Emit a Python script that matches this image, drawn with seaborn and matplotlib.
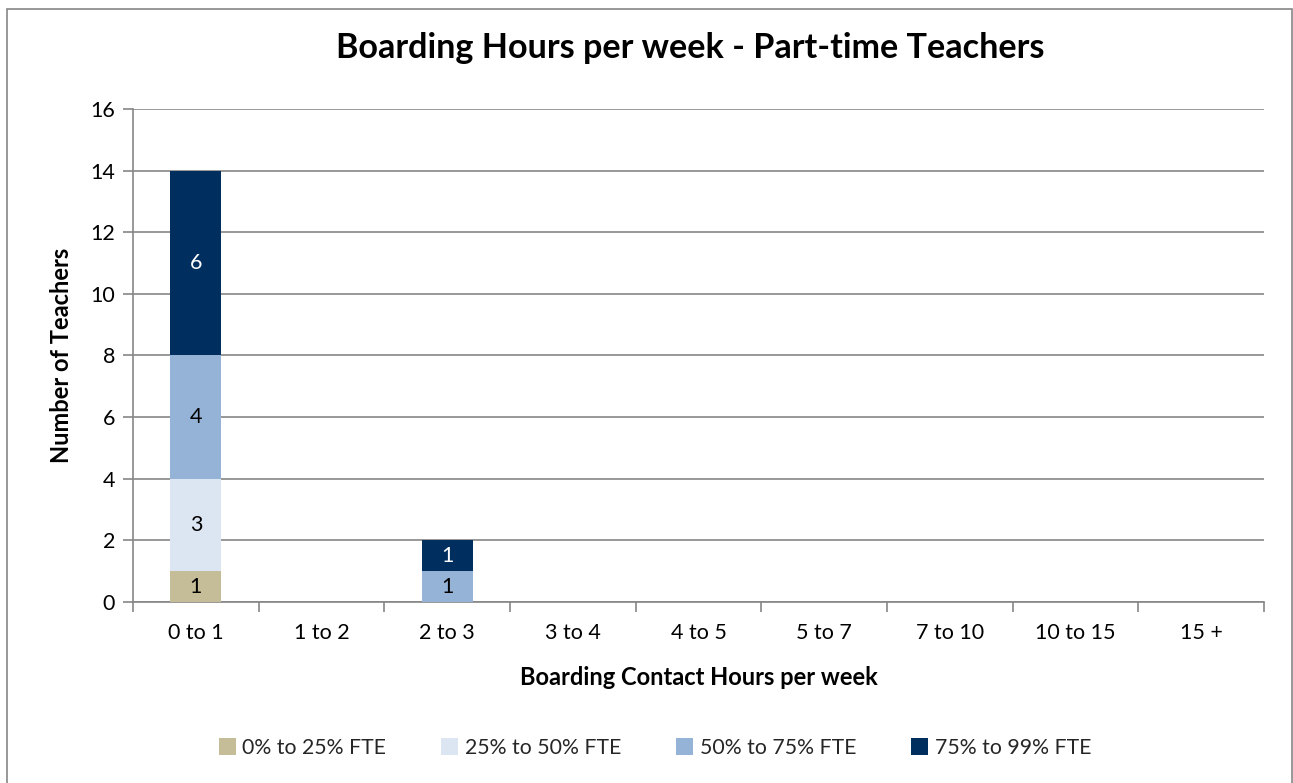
import matplotlib
matplotlib.use("Agg")
import matplotlib.pyplot as plt
import seaborn as sns
import numpy as np
import pandas as pd
from matplotlib.patches import Rectangle

categories = ["0 to 1", "1 to 2", "2 to 3", "3 to 4", "4 to 5", "5 to 7", "7 to 10", "10 to 15", "15 +"]
series_names = ["0% to 25% FTE", "25% to 50% FTE", "50% to 75% FTE", "75% to 99% FTE"]
fte_0_25 = [1, 0, 0, 0, 0, 0, 0, 0, 0]
fte_25_50 = [3, 0, 0, 0, 0, 0, 0, 0, 0]
fte_50_75 = [4, 0, 1, 0, 0, 0, 0, 0, 0]
fte_75_99 = [6, 0, 1, 0, 0, 0, 0, 0, 0]
series_values = [fte_0_25, fte_25_50, fte_50_75, fte_75_99]
colors = ["#C4BD97", "#DCE6F2", "#95B3D7", "#002F5F"]
label_colors = ["black", "black", "black", "white"]

sns.set_style("white")
plt.rcParams['font.family'] = ['Lato', 'DejaVu Sans']

fig = plt.figure(figsize=(12.93, 7.83), dpi=100)
ax = fig.add_axes([0.1029, 0.2312, 0.9776 - 0.1029, 0.8608 - 0.2312])

bottom = np.zeros(len(categories))
for name, vals, col, lc in zip(series_names, series_values, colors, label_colors):
    df = pd.DataFrame({"cat": categories, "val": vals})
    sns.barplot(data=df, x="cat", y="val", order=categories, color=col, width=0.405,
                bottom=bottom, ax=ax, label=name, saturation=1, zorder=3, edgecolor="none")
    for i, v in enumerate(vals):
        if v > 0:
            ax.text(i, bottom[i] + v / 2, str(v), ha="center", va="center",
                    fontsize=15.5, color=lc, zorder=4)
    bottom = bottom + np.array(vals)

handles, labels = ax.get_legend_handles_labels()
if ax.get_legend() is not None:
    ax.get_legend().remove()

ax.set_ylim(0, 16)
ax.set_yticks(range(0, 17, 2))
ax.set_xlim(-0.5, len(categories) - 0.5)
ax.yaxis.grid(True, color="#868686", linewidth=1.2, zorder=0)
ax.set_axisbelow(True)
for s in ["top", "right"]:
    ax.spines[s].set_visible(False)
for s in ["left", "bottom"]:
    ax.spines[s].set_color("#868686")
    ax.spines[s].set_linewidth(1.2)
ax.tick_params(axis="y", which="major", left=True, length=7, color="#868686", width=1.2,
               labelsize=15.5, pad=6, labelcolor="black")
ax.tick_params(axis="x", which="major", bottom=False, labelsize=15.5, pad=12, labelcolor="black")
ax.set_xticks(np.arange(-0.5, len(categories), 1), minor=True)
ax.tick_params(axis="x", which="minor", bottom=True, length=7, color="#868686", width=1.2)

ax.set_xlabel("Boarding Contact Hours per week", fontsize=17, fontweight="bold", labelpad=16,
              color="black")
ax.set_ylabel("Number of Teachers", fontsize=17, fontweight="bold", labelpad=12, color="black")
fig.text(0.534, 0.939, "Boarding Hours per week - Part-time Teachers", ha="center", va="center",
         fontsize=24.6, fontweight="bold", color="black")

fig.legend(handles, labels, loc="center", bbox_to_anchor=(0.5066, 0.045), ncol=4, frameon=False,
           fontsize=15.3, handlelength=0.8, handleheight=0.8, handletextpad=0.3, columnspacing=2.6)

fig.patches.append(Rectangle((0.0058, -0.02), 0.9932, 1.0085, transform=fig.transFigure,
                             fill=False, edgecolor="#868686", linewidth=1.2))

fig.savefig("out.png", dpi=100)
